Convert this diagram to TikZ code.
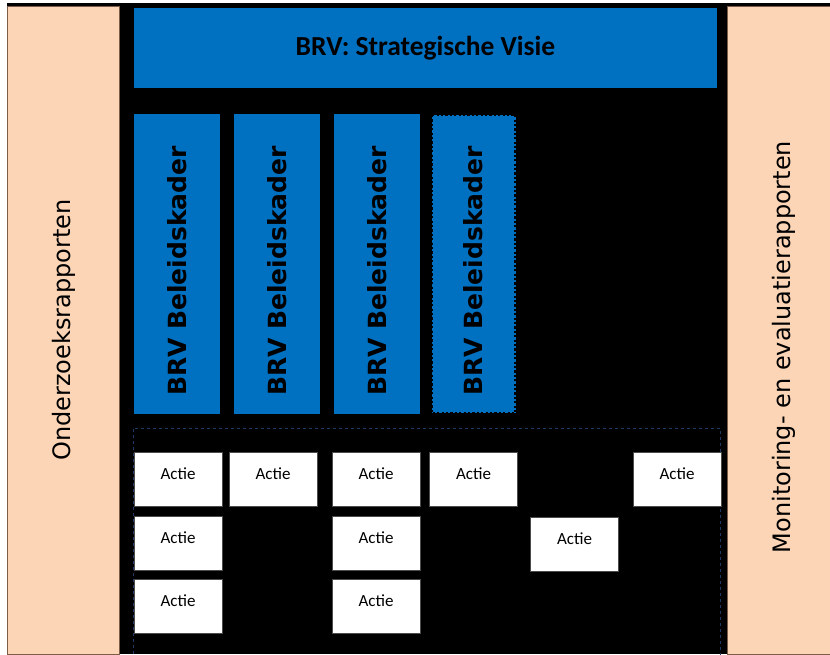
\documentclass[tikz,border=0pt]{standalone}
\usepackage{fontspec}
\setmainfont{Carlito}
\newfontfamily\sidefont{DejaVu Sans}
\newfontfamily\colfont{DejaVu Sans}
\definecolor{brvblue}{HTML}{0070C0}
\definecolor{peach}{HTML}{FBD5B5}
\definecolor{peachline}{HTML}{7A5C48}
\definecolor{dashblue}{HTML}{1F3864}
\tikzset{
  sidepanel/.style={fill=peach,draw=peachline,line width=0.8pt,rotate=90},
  sidetext/.style={rotate=90,font=\sidefont\fontsize{24}{28}\selectfont},
  visiebox/.style={fill=brvblue,minimum width=583pt,minimum height=80pt,
    font=\bfseries\fontsize{27.5}{30}\selectfont},
  kaderbox/.style={fill=brvblue,rotate=90,minimum width=300pt,minimum height=86pt,
    font=\colfont\bfseries\fontsize{25}{28}\selectfont},
  actiebox/.style={fill=white,draw=black!70,line width=0.6pt,minimum width=88pt,
    minimum height=54pt,text height=12pt,text depth=12pt,
    font=\fontsize{17}{19}\selectfont}
}
\begin{document}
\begin{tikzpicture}[x=1pt,y=-1pt]
\useasboundingbox (0,0) rectangle (830,654);
\fill[black] (7,3) rectangle (830,654);
% zijpanelen
\node[sidepanel,minimum width=648pt,minimum height=112pt] (onderzoek) at (63,330) {};
\node[sidetext] (onderzoektekst) at (64,330) {Onderzoeksrapporten};
\node[sidepanel,minimum width=648pt,minimum height=103pt] (monitoring) at (778.5,330) {};
\node[sidetext] (monitoringtekst) at (784,347) {Monitoring- en evaluatierapporten};
% visie en beleidskaders
\node[visiebox] (visie) at (425.5,48) {BRV: Strategische Visie};
\node[kaderbox] (kader1) at (177,264) {BRV Beleidskader\hspace*{14pt}};
\node[kaderbox] (kader2) at (277,264) {BRV Beleidskader\hspace*{14pt}};
\node[kaderbox] (kader3) at (377,264) {BRV Beleidskader\hspace*{14pt}};
\node[kaderbox,minimum width=298pt,minimum height=84pt,draw=black,line width=2.2pt,dash pattern=on 2.2pt off 2.2pt] (kader4) at (473.5,264) {BRV Beleidskader\hspace*{14pt}};
% acties
\draw[dashblue,dashed,line width=0.6pt] (133,660) -- (133,428) -- (720,428) -- (720,660);
\node[actiebox] (actie11) at (178,479) {Actie};
\node[actiebox] (actie12) at (273,479) {Actie};
\node[actiebox] (actie13) at (376,479) {Actie};
\node[actiebox] (actie14) at (473.5,479) {Actie};
\node[actiebox] (actie15) at (677,479) {Actie};
\node[actiebox] (actie21) at (178,543) {Actie};
\node[actiebox] (actie23) at (376,543) {Actie};
\node[actiebox] (actie24) at (574.5,544) {Actie};
\node[actiebox] (actie31) at (178,606) {Actie};
\node[actiebox] (actie33) at (376,606) {Actie};
\end{tikzpicture}
\end{document}
